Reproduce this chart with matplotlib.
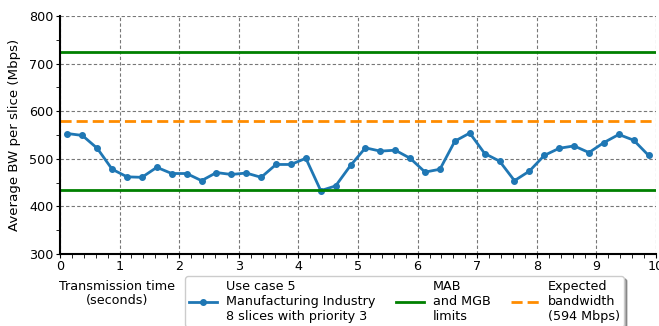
import numpy as np
import matplotlib
matplotlib.use("Agg")
import matplotlib.pyplot as plt
from matplotlib.ticker import MultipleLocator

# average bandwidth per slice, sampled every 0.25 s
time = np.arange(0.125, 10.0, 0.25)
avg_bw = [553, 549, 522, 478, 462, 461, 482, 469, 469, 454,
          471, 467, 470, 461, 488, 488, 501, 433, 443, 486,
          523, 516, 518, 501, 472, 478, 537, 554, 511, 495,
          454, 474, 507, 522, 527, 513, 534, 551, 539, 507]

mab_limit = 725
mgb_limit = 435
expected_bw = 580

plt.rcParams['font.size'] = 9.2

fig = plt.figure(figsize=(6.59, 3.26), dpi=100)
ax = fig.add_axes([0.091, 0.221, 0.9045, 0.730])

l1, = ax.plot(time, avg_bw, color='#1f77b4', lw=2, marker='o', markersize=4,
              label='Use case 5\nManufacturing Industry\n8 slices with priority 3')
l2 = ax.axhline(mab_limit, color='green', lw=2, label='MAB\nand MGB\nlimits')
ax.axhline(mgb_limit, color='green', lw=2)
l3 = ax.axhline(expected_bw, color='darkorange', lw=2, ls=(0, (4, 1.8)),
                label='Expected\nbandwidth\n(594 Mbps)')

ax.set_xlim(0, 10)
ax.set_ylim(300, 800)
ax.xaxis.set_major_locator(MultipleLocator(1))
ax.xaxis.set_minor_locator(MultipleLocator(0.2))
ax.yaxis.set_major_locator(MultipleLocator(100))
ax.yaxis.set_minor_locator(MultipleLocator(50))
ax.grid(True, which='major', ls=(0, (3, 2)), color='#777777', lw=0.8)
ax.spines['top'].set_visible(False)
ax.spines['right'].set_visible(False)
ax.spines['left'].set_linewidth(1.5)
ax.spines['bottom'].set_linewidth(1.5)
ax.tick_params(which='both', direction='out', length=3, pad=1.5)
ax.set_ylabel('Average BW per slice (Mbps)', fontsize=9.6, labelpad=6)

fig.text(0.178, 0.14, 'Transmission time\n(seconds)', ha='center', va='top',
         multialignment='center', linespacing=1.1)

fig.legend(handles=[l1, l2, l3], loc='upper left', ncol=3,
           bbox_to_anchor=(0.281, 0.153), frameon=True, shadow=True,
           fancybox=True, handlelength=2.2, handletextpad=0.7,
           columnspacing=1.6, borderpad=0.3,
           borderaxespad=0, labelspacing=0.15)

fig.savefig('out.png', dpi=100)
